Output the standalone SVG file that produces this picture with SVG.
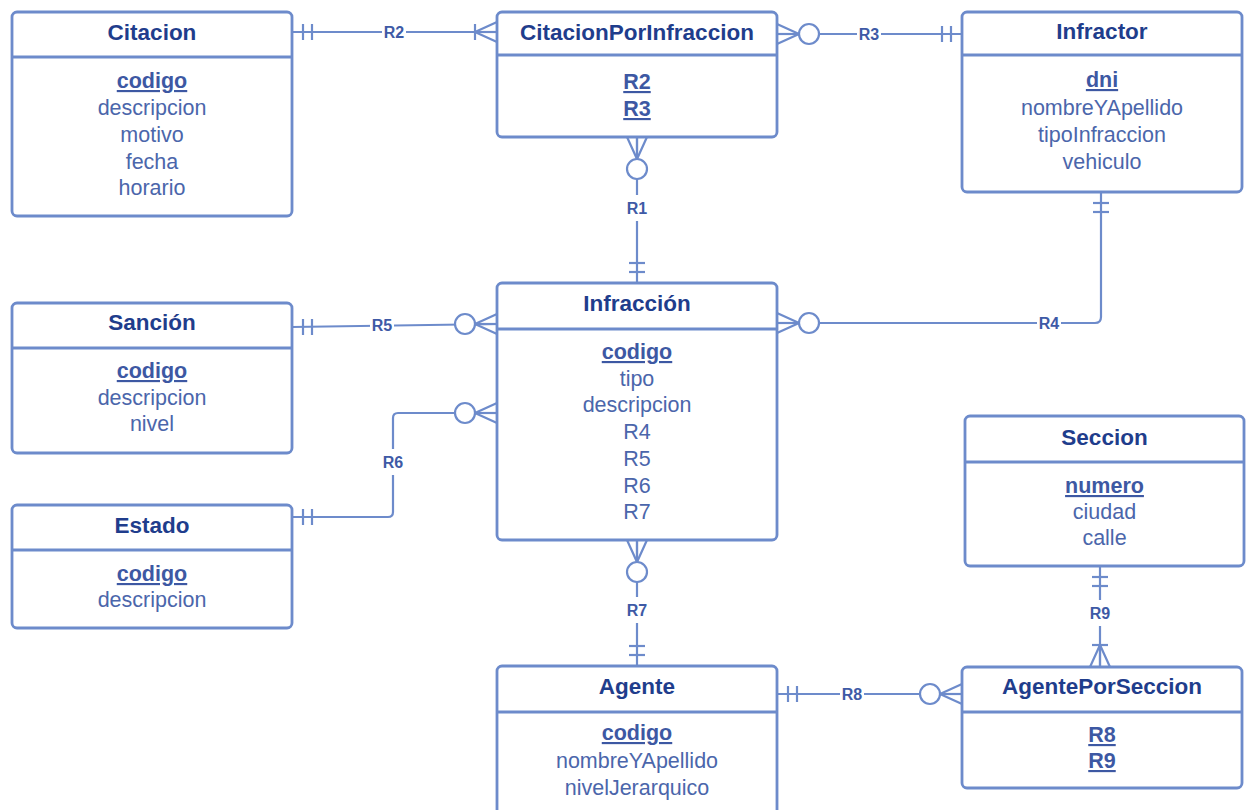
<svg xmlns="http://www.w3.org/2000/svg" xmlns:xlink="http://www.w3.org/1999/xlink" width="1248" height="810" viewBox="0 0 1248 810">
  <style>
    .box { fill: #ffffff; stroke: #6d8bcb; stroke-width: 2.8; }
    .sep { stroke: #6d8bcb; stroke-width: 2.8; }
    .title { font-family: "Liberation Sans", Arial, sans-serif; font-weight: bold; font-size: 22.5px; fill: #1f3d8c; text-anchor: middle; }
    .attr { font-family: "Liberation Sans", Arial, sans-serif; font-size: 21.5px; fill: #4b66ab; text-anchor: middle; }
    .key { font-family: "Liberation Sans", Arial, sans-serif; font-weight: bold; font-size: 21.5px; fill: #3d58a3; text-anchor: middle; text-decoration: underline; }
    .conn { fill: none; stroke: #6d8bcb; stroke-width: 2.2; }
    .lbl { font-family: "Liberation Sans", Arial, sans-serif; font-weight: bold; font-size: 16px; fill: #3e5aa6; text-anchor: middle; }
    .lblbg { fill: #ffffff; }
  </style>
  <defs>
    <!-- cardinality ends, drawn with the entity edge at the origin and the line leaving along +x -->
    <g id="mand" class="conn">
      <line x1="11" y1="-8" x2="11" y2="8"/>
      <line x1="20" y1="-8" x2="20" y2="8"/>
    </g>
    <g id="zmany" class="conn">
      <polyline points="0,-10 22,0 0,10"/>
      <line x1="0" y1="0" x2="22" y2="0"/>
      <circle cx="32" cy="0" r="10" fill="#ffffff"/>
    </g>
    <g id="omany" class="conn">
      <polyline points="0,-10 22,0 0,10"/>
      <line x1="0" y1="0" x2="22" y2="0"/>
      <line x1="22" y1="-8" x2="22" y2="8"/>
    </g>
  </defs>

  <rect x="0" y="0" width="1248" height="810" fill="#ffffff"/>

  <!-- relationships -->
  <g id="connectors">
    <!-- R2 -->
    <line class="conn" x1="292" y1="32" x2="497" y2="32"/>
    <use xlink:href="#mand" transform="translate(292,32)"/>
    <use xlink:href="#omany" transform="translate(497,32) rotate(180)"/>
    <rect class="lblbg" x="382" y="24" width="24" height="16"/>
    <text class="lbl" x="394" y="37.8">R2</text>
    <!-- R3 -->
    <line class="conn" x1="777" y1="34" x2="962" y2="34"/>
    <use xlink:href="#zmany" transform="translate(777,34)"/>
    <use xlink:href="#mand" transform="translate(962,34) rotate(180)"/>
    <rect class="lblbg" x="857" y="26" width="24" height="16"/>
    <text class="lbl" x="869" y="39.8">R3</text>
    <!-- R1 -->
    <line class="conn" x1="637" y1="137" x2="637" y2="283"/>
    <use xlink:href="#zmany" transform="translate(637,137) rotate(90)"/>
    <use xlink:href="#mand" transform="translate(637,283) rotate(-90)"/>
    <rect class="lblbg" x="625" y="195" width="24" height="26"/>
    <text class="lbl" x="637" y="213.8">R1</text>
    <!-- R4 -->
    <path class="conn" d="M777,323 H1095 Q1101,323 1101,317 V192"/>
    <use xlink:href="#zmany" transform="translate(777,323)"/>
    <use xlink:href="#mand" transform="translate(1101,192) rotate(90)"/>
    <rect class="lblbg" x="1037" y="315" width="24" height="16"/>
    <text class="lbl" x="1049" y="328.8">R4</text>
    <!-- R5 -->
    <line class="conn" x1="292" y1="327" x2="497" y2="324"/>
    <use xlink:href="#mand" transform="translate(292,327)"/>
    <use xlink:href="#zmany" transform="translate(497,324) rotate(180)"/>
    <rect class="lblbg" x="370" y="317" width="24" height="16"/>
    <text class="lbl" x="382" y="330.8">R5</text>
    <!-- R6 -->
    <path class="conn" d="M292,517 H388 Q393,517 393,512 V418 Q393,413 398,413 H497"/>
    <use xlink:href="#mand" transform="translate(292,517)"/>
    <use xlink:href="#zmany" transform="translate(497,413) rotate(180)"/>
    <rect class="lblbg" x="381" y="449" width="24" height="26"/>
    <text class="lbl" x="393" y="467.8">R6</text>
    <!-- R7 -->
    <line class="conn" x1="637" y1="540" x2="637" y2="666"/>
    <use xlink:href="#zmany" transform="translate(637,540) rotate(90)"/>
    <use xlink:href="#mand" transform="translate(637,666) rotate(-90)"/>
    <rect class="lblbg" x="625" y="597" width="24" height="26"/>
    <text class="lbl" x="637" y="615.8">R7</text>
    <!-- R8 -->
    <line class="conn" x1="777" y1="694" x2="962" y2="694"/>
    <use xlink:href="#mand" transform="translate(777,694)"/>
    <use xlink:href="#zmany" transform="translate(962,694) rotate(180)"/>
    <rect class="lblbg" x="840" y="686" width="24" height="16"/>
    <text class="lbl" x="852" y="699.8">R8</text>
    <!-- R9 -->
    <line class="conn" x1="1100" y1="566" x2="1100" y2="667"/>
    <use xlink:href="#mand" transform="translate(1100,566) rotate(90)"/>
    <use xlink:href="#omany" transform="translate(1100,667) rotate(-90)"/>
    <rect class="lblbg" x="1088" y="600" width="24" height="26"/>
    <text class="lbl" x="1100" y="618.8">R9</text>
  </g>

  <!-- entities -->
  <g id="citacion">
    <rect class="box" x="12" y="12" width="280" height="204" rx="5"/>
    <line class="sep" x1="12" y1="57" x2="292" y2="57"/>
    <text class="title" x="152" y="40">Citacion</text>
    <text class="key" x="152" y="88">codigo</text>
    <text class="attr" x="152" y="115">descripcion</text>
    <text class="attr" x="152" y="142">motivo</text>
    <text class="attr" x="152" y="169">fecha</text>
    <text class="attr" x="152" y="195">horario</text>
  </g>

  <g id="citacionPorInfraccion">
    <rect class="box" x="497" y="12" width="280" height="125" rx="5"/>
    <line class="sep" x1="497" y1="55" x2="777" y2="55"/>
    <text class="title" x="637" y="40">CitacionPorInfraccion</text>
    <text class="key" x="637" y="89">R2</text>
    <text class="key" x="637" y="116">R3</text>
  </g>

  <g id="infractor">
    <rect class="box" x="962" y="12" width="280" height="180" rx="5"/>
    <line class="sep" x1="962" y1="55" x2="1242" y2="55"/>
    <text class="title" x="1102" y="39">Infractor</text>
    <text class="key" x="1102" y="87">dni</text>
    <text class="attr" x="1102" y="115">nombreYApellido</text>
    <text class="attr" x="1102" y="142">tipoInfraccion</text>
    <text class="attr" x="1102" y="169">vehiculo</text>
  </g>

  <g id="sancion">
    <rect class="box" x="12" y="303" width="280" height="150" rx="5"/>
    <line class="sep" x1="12" y1="348" x2="292" y2="348"/>
    <text class="title" x="152" y="330">Sanción</text>
    <text class="key" x="152" y="378">codigo</text>
    <text class="attr" x="152" y="405">descripcion</text>
    <text class="attr" x="152" y="431">nivel</text>
  </g>

  <g id="estado">
    <rect class="box" x="12" y="505" width="280" height="123" rx="5"/>
    <line class="sep" x1="12" y1="550" x2="292" y2="550"/>
    <text class="title" x="152" y="533">Estado</text>
    <text class="key" x="152" y="581">codigo</text>
    <text class="attr" x="152" y="607">descripcion</text>
  </g>

  <g id="infraccion">
    <rect class="box" x="497" y="283" width="280" height="257" rx="5"/>
    <line class="sep" x1="497" y1="329" x2="777" y2="329"/>
    <text class="title" x="637" y="311">Infracción</text>
    <text class="key" x="637" y="359">codigo</text>
    <text class="attr" x="637" y="386">tipo</text>
    <text class="attr" x="637" y="412">descripcion</text>
    <text class="attr" x="637" y="439">R4</text>
    <text class="attr" x="637" y="466">R5</text>
    <text class="attr" x="637" y="493">R6</text>
    <text class="attr" x="637" y="519">R7</text>
  </g>

  <g id="seccion">
    <rect class="box" x="965" y="416" width="279" height="150" rx="5"/>
    <line class="sep" x1="965" y1="462" x2="1244" y2="462"/>
    <text class="title" x="1104.5" y="445">Seccion</text>
    <text class="key" x="1104.5" y="493">numero</text>
    <text class="attr" x="1104.5" y="519">ciudad</text>
    <text class="attr" x="1104.5" y="545">calle</text>
  </g>

  <g id="agente">
    <rect class="box" x="497" y="666" width="280" height="160" rx="5"/>
    <line class="sep" x1="497" y1="712" x2="777" y2="712"/>
    <text class="title" x="637" y="694">Agente</text>
    <text class="key" x="637" y="740">codigo</text>
    <text class="attr" x="637" y="768">nombreYApellido</text>
    <text class="attr" x="637" y="795">nivelJerarquico</text>
  </g>

  <g id="agentePorSeccion">
    <rect class="box" x="962" y="667" width="280" height="121" rx="5"/>
    <line class="sep" x1="962" y1="712" x2="1242" y2="712"/>
    <text class="title" x="1102" y="694">AgentePorSeccion</text>
    <text class="key" x="1102" y="742">R8</text>
    <text class="key" x="1102" y="768">R9</text>
  </g>
</svg>
